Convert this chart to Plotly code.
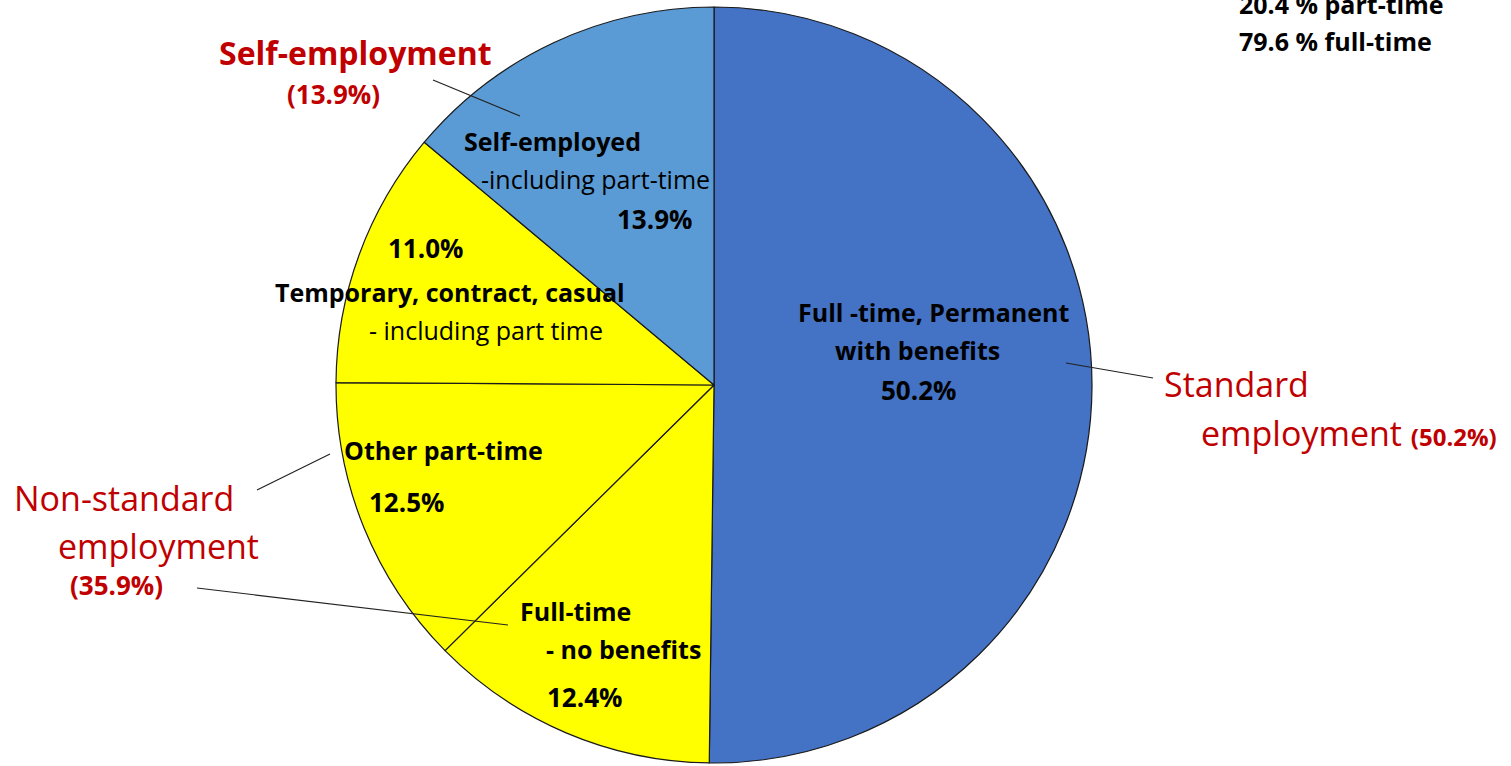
import plotly.graph_objects as go

W, H = 1511, 766

# ---- data ----
categories = ["Full -time, Permanent<br>with benefits", "Full-time<br>- no benefits",
              "Other part-time", "Temporary, contract, casual<br>- including part time",
              "Self-employed<br>-including part-time"]
values = [50.2, 12.4, 12.5, 11.0, 13.9]
colors = ["#4472C4", "#FFFF00", "#FFFF00", "#FFFF00", "#5B9BD5"]
groups = ["Standard employment", "Non-standard employment", "Self-employment"]
group_values = [50.2, 35.9, 13.9]
time_split = ["20.4 % part-time", "79.6 % full-time"]

FONT = "Open Sans"
RED = "#C00000"


def px(x, y):
    return x / W, 1 - y / H


fig = go.Figure()
fig.add_trace(go.Pie(
    labels=categories, values=values, sort=False, direction="clockwise", rotation=0,
    marker=dict(colors=colors, line=dict(color="#1a1a1a", width=1.2)),
    textinfo="none", hoverinfo="label+value", showlegend=False,
    domain=dict(x=[336 / W, 1092 / W], y=[(381 - 378) / H, (381 + 378) / H]),
))

ann = []


def add(text, x, y, size=25, color="black", bold=True, xanchor="center"):
    ax, ay = px(x, y)
    t = f"<b>{text}</b>" if bold else text
    ann.append(dict(text=t, x=ax, y=ay, xref="paper", yref="paper", showarrow=False,
                    xanchor=xanchor, yanchor="middle",
                    font=dict(family=FONT, size=size, color=color)))


pct = [f"{v:.1f}%" for v in values]
PS = 26

# slice labels
add("Full -time, Permanent", 933, 312)
add("with benefits", 917, 350)
add(pct[0], 918, 390, size=PS)
add("Full-time", 575, 611)
add("- no benefits", 623, 649)
add(pct[1], 584, 697, size=PS)
add("Other part-time", 443, 450)
add(pct[2], 407, 502, size=PS)
add("Temporary, contract, casual", 450, 292)
add("- including part time", 486, 330, size=25, bold=False)
add(pct[3], 425, 248, size=PS)
add("Self-employed", 552, 141)
add("-including part-time", 595, 179, size=25, bold=False)
add(pct[4], 654, 219, size=PS)

# group labels
add("Self-employment", 355, 52, size=32, color=RED)
add(f"({group_values[2]:.1f}%)", 333, 94, size=26, color=RED)
add("Non-standard", 124, 498, size=34, color=RED, bold=False)
add("employment", 158, 546, size=34, color=RED, bold=False)
add(f"({group_values[1]:.1f}%)", 116, 585, size=26, color=RED)
add("Standard", 1236, 384, size=34, color=RED, bold=False)
ax, ay = px(1199, 433)
ann.append(dict(text=f"employment <b><span style='font-size:24px'>({group_values[0]:.1f}%)</span></b>",
                x=ax, y=ay, xref="paper", yref="paper", showarrow=False,
                xanchor="left", yanchor="middle", font=dict(family=FONT, size=34, color=RED)))

# top-right summary
add(time_split[0], 1237, 4, size=25, xanchor="left")
add(time_split[1], 1237, 41, size=25, xanchor="left")

# leader lines
shapes = []
for (x0, y0, x1, y1) in [(433, 80, 520, 116), (257, 490, 330, 454),
                         (197, 588, 508, 625), (1066, 363, 1153, 378)]:
    a0, b0 = px(x0, y0)
    a1, b1 = px(x1, y1)
    shapes.append(dict(type="line", xref="paper", yref="paper", x0=a0, y0=b0, x1=a1, y1=b1,
                       line=dict(color="#222222", width=1.2)))

fig.update_layout(width=W, height=H, margin=dict(l=0, r=0, t=0, b=0),
                  paper_bgcolor="white", plot_bgcolor="white",
                  annotations=ann, shapes=shapes)

fig.write_html("out.html", config={"displayModeBar": False},
               post_script="document.body.style.margin='0';document.body.style.overflow='hidden';")
